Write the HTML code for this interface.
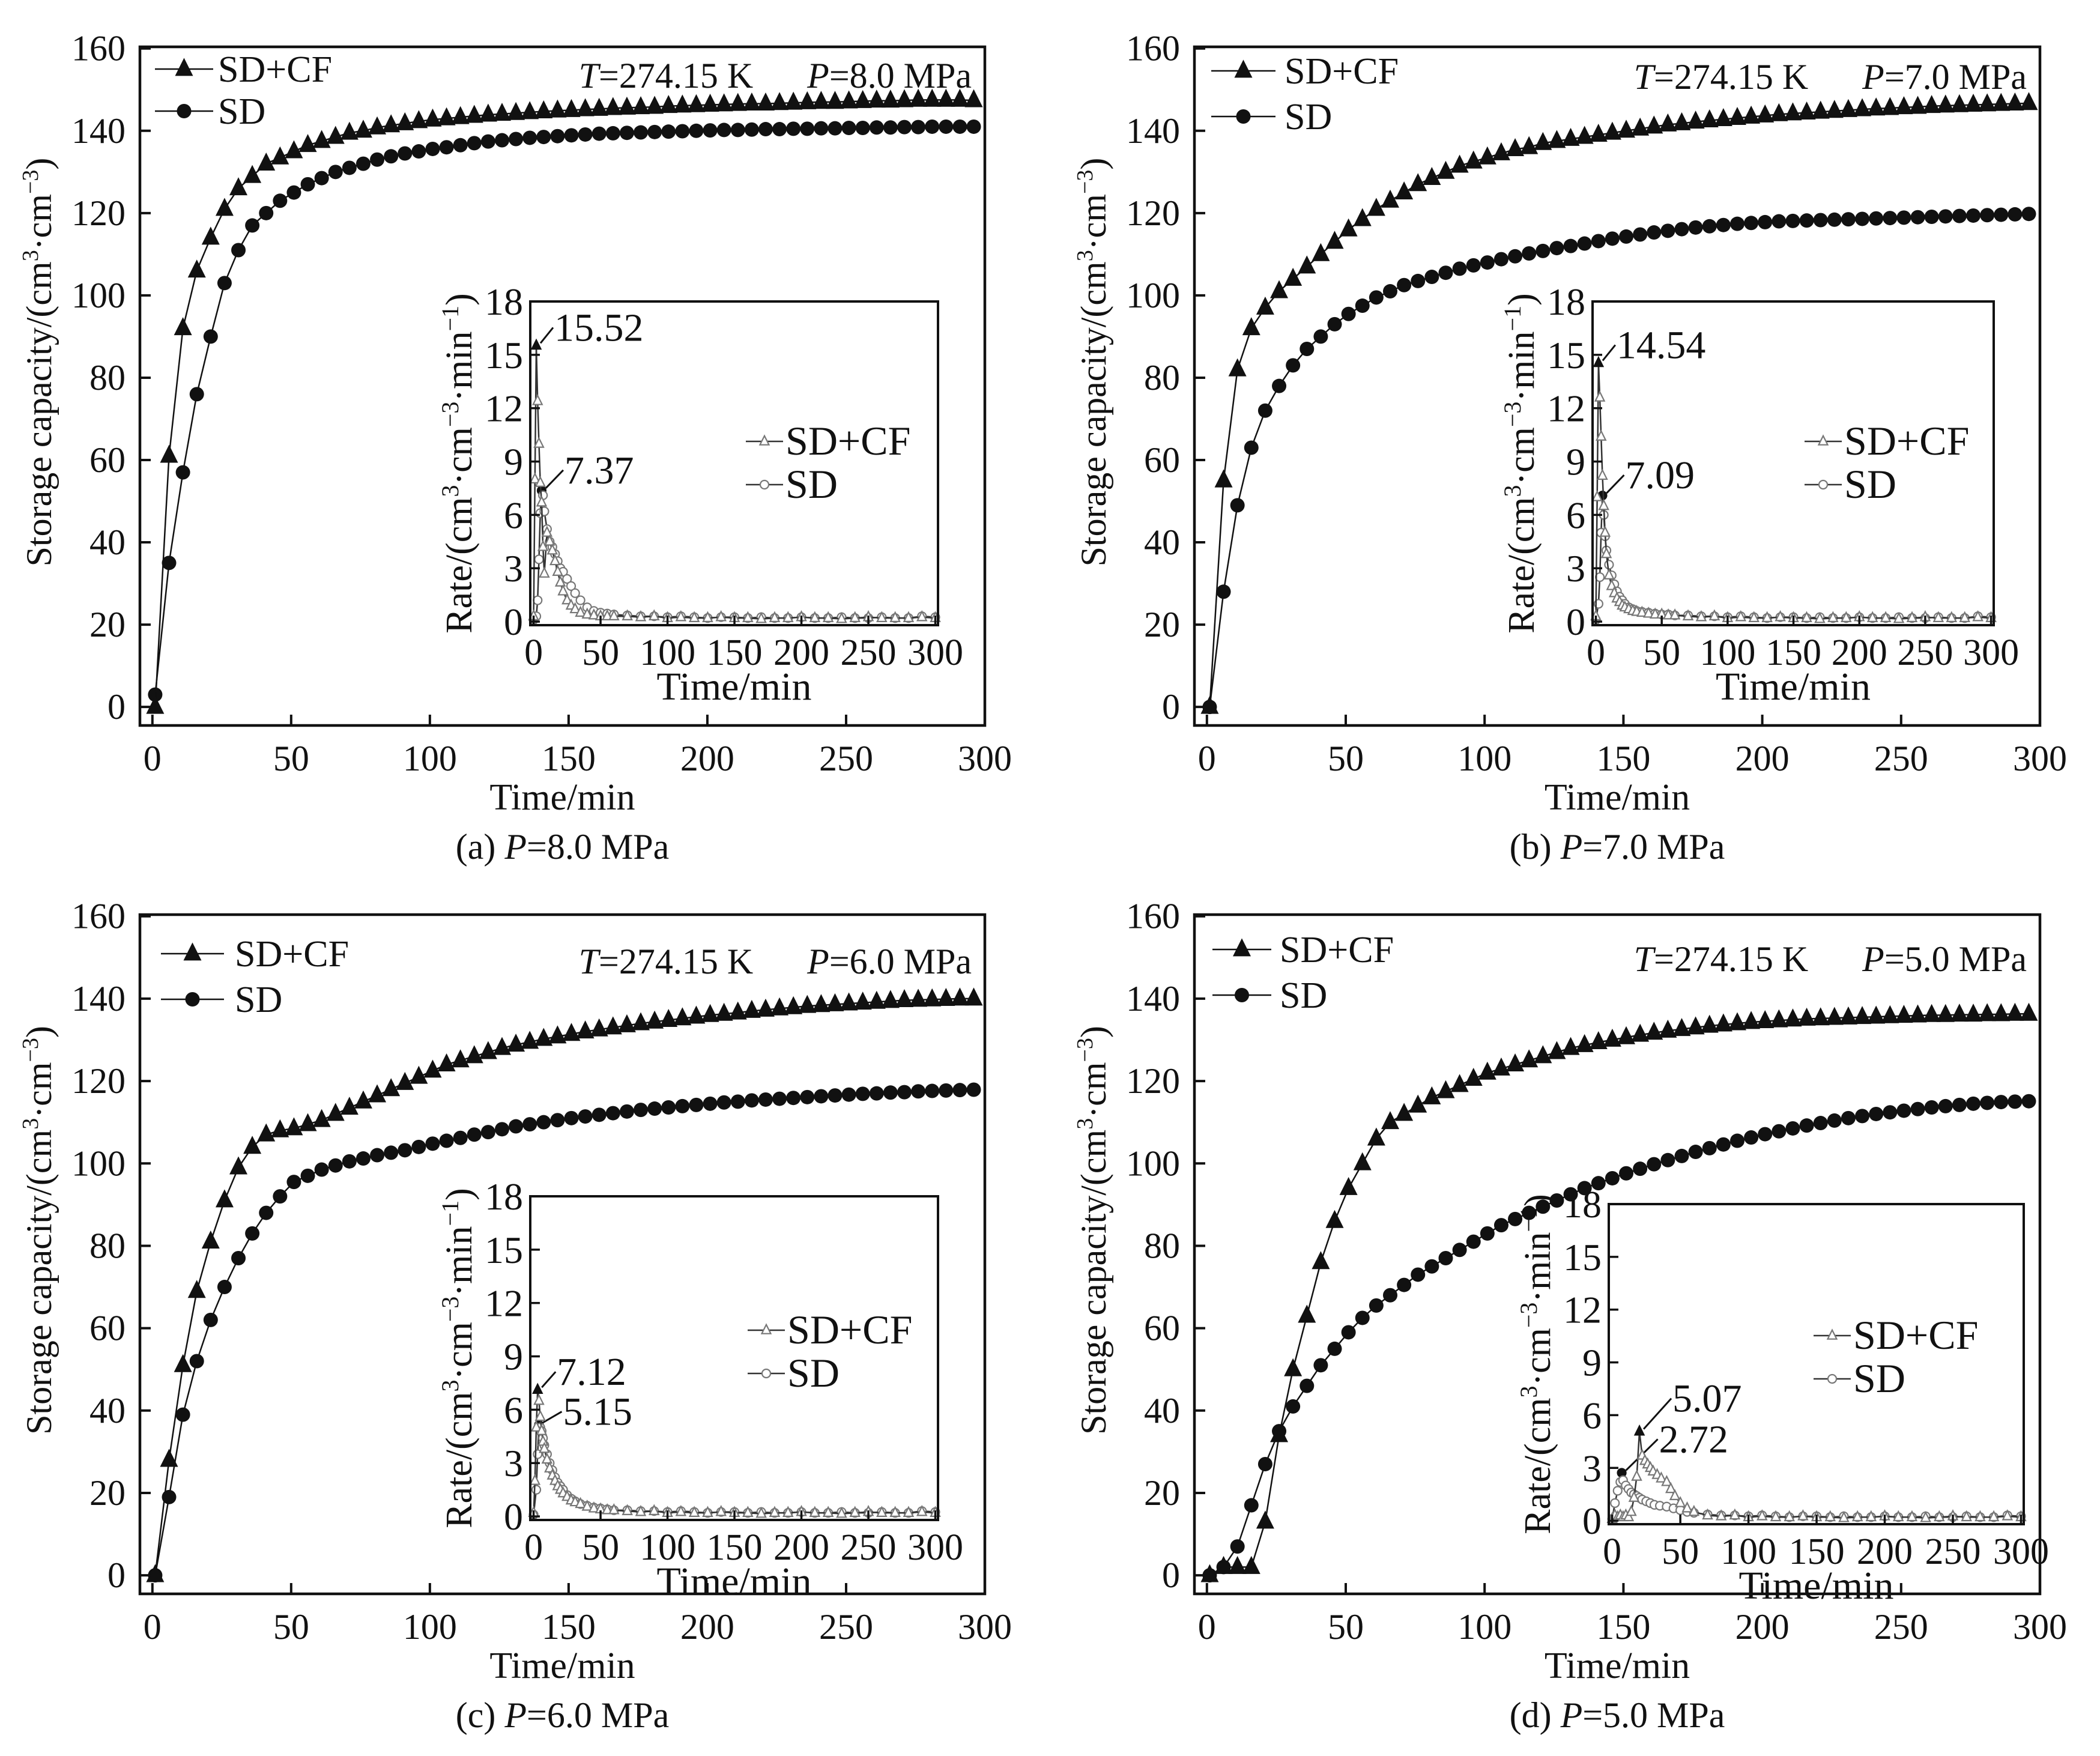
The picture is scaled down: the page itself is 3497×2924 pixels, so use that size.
<!DOCTYPE html>
<html><head><meta charset="utf-8">
<style>
html,body{margin:0;padding:0;background:#fff;}
svg{display:block;font-family:"Liberation Serif","Times New Roman",serif;}
</style></head>
<body>
<svg id="fig" xmlns="http://www.w3.org/2000/svg" width="3497" height="2924" viewBox="0 0 3497 2924"></svg>
<script>
// ---------- main chart data (storage capacity) ----------
const mainTimes = [1,6,11,16,21,26,31,36,41,46,51,56,61,66,71,76,81,86,91,96,101,106,111,116,121,126,131,136,141,146,151,156,161,166,171,176,181,186,191,196,201,206,211,216,221,226,231,236,241,246,251,256,261,266,271,276,281,286,291,296];
const mainTicksX = [0,50,100,150,200,250,300];
const mainTicksY = [0,20,40,60,80,100,120,140,160];
const aCF = [0,61,92,106,114,121,126,129,132,133.5,135,136.5,137.5,138.5,139.5,140,140.8,141.3,141.8,142.3,142.7,143,143.3,143.6,143.9,144.1,144.3,144.5,144.7,144.9,145,145.2,145.3,145.5,145.6,145.7,145.8,146,146.1,146.2,146.3,146.4,146.5,146.6,146.6,146.7,146.8,146.9,147,147,147.1,147.2,147.3,147.3,147.4,147.5,147.5,147.5,147.5,147.4];
const aSD = [3,35,57,76,90,103,111,117,120,123,125,127,128.5,130,131,132,133,133.8,134.5,135,135.6,136,136.5,137,137.4,137.7,138,138.3,138.5,138.7,138.9,139.1,139.3,139.4,139.5,139.6,139.7,139.8,139.9,140,140.1,140.2,140.2,140.3,140.4,140.4,140.5,140.5,140.6,140.6,140.7,140.7,140.8,140.8,140.9,140.9,141,141,141,141];
const bCF = [0,55,82,92,97,101,104,107,110,113,116,118.5,121,123,125,127,128.5,130,131.5,132.5,133.5,134.5,135.5,136,137,137.5,138,138.5,139,139.5,140,140.5,141,141.5,141.8,142.2,142.5,142.8,143.1,143.4,143.7,144,144.2,144.4,144.6,144.8,145,145.2,145.4,145.5,145.7,145.8,146,146.1,146.2,146.3,146.4,146.5,146.6,146.7];
const bSD = [0,28,49,63,72,78,83,87,90,93,95.5,97.5,99.5,101,102.5,103.5,104.5,105.5,106.5,107.3,108,108.8,109.5,110.2,110.8,111.5,112,112.6,113.2,113.8,114.3,114.8,115.3,115.7,116.1,116.5,116.8,117.1,117.4,117.6,117.8,118,118.1,118.2,118.3,118.4,118.5,118.6,118.7,118.8,118.9,119,119.1,119.2,119.3,119.4,119.5,119.6,119.7,119.8];
const cCF = [0,28,51,69,81,91,99,104,107,108,108.5,109.5,110.5,112,113.5,115,116.5,118,119.5,121,122.5,124,125,126,127,128,128.8,129.5,130.2,130.8,131.4,132,132.5,133,133.5,134,134.4,134.8,135.2,135.6,136,136.3,136.6,137,137.3,137.6,137.9,138.2,138.4,138.6,138.8,139,139.2,139.4,139.6,139.7,139.8,139.9,140,140];
const cSD = [0,19,39,52,62,70,77,83,88,92,95.5,97,98.5,99.5,100.5,101.2,102,102.6,103.2,104,104.8,105.5,106.2,107,107.6,108.3,109,109.5,110,110.5,111,111.4,111.8,112.2,112.6,113,113.3,113.6,113.9,114.2,114.5,114.8,115,115.3,115.5,115.7,115.9,116.1,116.3,116.5,116.7,116.9,117,117.2,117.3,117.5,117.6,117.7,117.8,117.9];
const dCF = [0,2,2,2,13,34,50,63,76,86,94,100,106,110,112,114,116,117.5,119,120.5,122,123,124,125,126,127,128,128.7,129.4,130,130.6,131.2,131.7,132.2,132.6,133,133.4,133.7,134,134.3,134.5,134.7,134.9,135.1,135.2,135.3,135.4,135.5,135.6,135.7,135.8,135.9,136,136,136.1,136.1,136.2,136.2,136.3,136.3];
const dSD = [0,2,7,17,27,35,41,46,51,55,59,62.5,65.5,68,70.5,73,75,77,79,81,83,85,86.5,88,89.5,91,92.5,94,95.2,96.4,97.6,98.7,99.8,100.8,101.8,102.8,103.7,104.6,105.5,106.3,107.1,107.8,108.5,109.2,109.8,110.4,111,111.5,112,112.4,112.8,113.2,113.6,113.9,114.2,114.5,114.7,114.9,115,115.1];

// ---------- inset data (rate) ----------
const insetTicksX = [0,50,100,150,200,250,300];
const insetTicksY = [0,3,6,9,12,15,18];
const tailTimes = [70,80,90,100,110,120,130,140,150,160,170,180,190,200,210,220,230,240,250,260,270,280,290,300];
const tailCF = [0.3,0.25,0.3,0.2,0.25,0.2,0.2,0.25,0.2,0.2,0.15,0.2,0.2,0.25,0.2,0.2,0.15,0.2,0.25,0.2,0.2,0.2,0.25,0.2];
const tailSD = [0.35,0.3,0.3,0.25,0.3,0.25,0.2,0.25,0.25,0.2,0.25,0.2,0.2,0.25,0.2,0.2,0.25,0.2,0.2,0.25,0.2,0.2,0.3,0.25];
const rateTimesCF = [0,1,2,3,4,5,6,7,8,10,12,14,16,18,20,22,25,28,31,35,40,45,50,55,60];
const rateTimesSD = [0,2,3,4,5,6,7,8,10,12,14,16,18,20,22,25,28,31,35,40,45,50,55,60];
const aRateCF = [0.3,8,15.52,12.4,10,7.8,6.7,4.2,2.7,5.0,4.5,4.0,3.4,2.8,2.2,1.7,1.2,0.9,0.7,0.5,0.4,0.35,0.3,0.3,0.3];
const aRateSD = [0.1,0.3,1.2,3.5,6.1,7.37,7.1,6.2,5.2,4.5,4.2,3.8,3.4,3.0,2.8,2.4,2.0,1.6,1.2,0.8,0.6,0.5,0.45,0.4];
const bRateCF = [0.3,7,14.54,12.6,10.4,8.2,6.5,5.0,3.8,2.6,2.0,1.6,1.3,1.1,0.9,0.8,0.7,0.6,0.55,0.5,0.45,0.4,0.4,0.35,0.35];
const bRateSD = [0.1,1,2.5,5,7.09,6,4.8,4.0,3.2,2.6,2.1,1.7,1.4,1.2,1.0,0.8,0.7,0.6,0.55,0.5,0.45,0.4,0.4,0.35];
const cRateCF = [0.2,2,5,7.12,6.5,5.6,4.8,4.2,3.8,3.2,2.7,2.3,2.0,1.7,1.5,1.3,1.1,0.9,0.8,0.7,0.55,0.45,0.4,0.35,0.35];
const cRateSD = [0.1,1.5,3.5,5.15,5.0,4.8,4.4,4.0,3.5,3.0,2.6,2.2,1.9,1.7,1.5,1.2,1.0,0.85,0.7,0.6,0.5,0.45,0.4,0.35];
const dRateTimesCF = [0,2,4,6,8,10,12,14,16,18,20,22,24,26,28,30,33,36,40,43,46,50,55,60];
const dRateCF = [0.1,0.3,0.2,0.3,0.2,0.3,0.2,0.5,1.3,2.5,5.07,3.7,3.4,3.2,3.0,2.8,2.6,2.4,2.2,1.8,1.4,1.0,0.7,0.5];
const dRateTimesSD = [0,2,4,6,7,8,10,12,14,16,18,20,22,25,28,31,35,40,45,50,55,60];
const dRateSD = [0.1,1,1.7,2.2,2.72,2.3,2.0,1.8,1.6,1.5,1.4,1.3,1.2,1.1,1.0,0.9,0.85,0.8,0.7,0.6,0.5,0.45];
const peakLabels = {a:["15.52","7.37"],b:["14.54","7.09"],c:["7.12","5.15"],d:["5.07","2.72"]};

const NS = "http://www.w3.org/2000/svg";
const svg = document.getElementById('fig');
function mk(tag, attrs, parent){
  const e = document.createElementNS(NS, tag);
  for (const k in attrs) e.setAttribute(k, attrs[k]);
  (parent||svg).appendChild(e);
  return e;
}
function txt(parent, x, y, str, size, anchor, name){
  const t = mk('text', {x:x, y:y, 'font-size':size, 'text-anchor':anchor||'start', fill:'#111'}, parent);
  
  
  t.textContent = str;
  return t;
}
function tri(parent, x, y, s, fill, stroke, sw){
  return mk('polygon', {points:`${x},${y-s*0.62} ${x-s/2},${y+s*0.38} ${x+s/2},${y+s*0.38}`, fill:fill, stroke:stroke, 'stroke-width':sw}, parent);
}

const panels = [
 {id:'a', L:233, T:78, R:1640, B:1208, cf:aCF, sd:aSD, P:'8.0', titleDy:68, legY:[37,107], legX:[25,122,130],
  ins:{L:883,T:502,R:1562,B:1041, cfT:rateTimesCF, cf:aRateCF, sdT:rateTimesSD, sd:aRateSD, leg:[1242,735], ann:[[30,-8],[38,-12]]}},
 {id:'b', L:1989, T:78, R:3397, B:1208, cf:bCF, sd:bSD, P:'7.0', titleDy:70, legY:[40,116], legX:[28,135,150],
  ins:{L:2652,T:502,R:3320,B:1041, cfT:rateTimesCF, cf:bRateCF, sdT:rateTimesSD, sd:bRateSD, leg:[3005,735], ann:[[30,-8],[38,-12]]}},
 {id:'c', L:233, T:1523, R:1640, B:2654, cf:cCF, sd:cSD, P:'6.0', titleDy:98, legY:[65,141], legX:[35,140,158],
  ins:{L:883,T:1992,R:1562,B:2531, cfT:rateTimesCF, cf:cRateCF, sdT:rateTimesSD, sd:cRateSD, leg:[1245,2215], ann:[[32,-8],[40,0]]}},
 {id:'d', L:1989, T:1523, R:3397, B:2654, cf:dCF, sd:dSD, P:'5.0', titleDy:94, legY:[58,134], legX:[30,128,142],
  ins:{L:2679,T:2005,R:3370,B:2538, cfT:dRateTimesCF, cf:dRateCF, sdT:dRateTimesSD, sd:dRateSD, leg:[3020,2224], ann:[[55,-33],[62,-34]]}}
];

panels.forEach(p => {
  const g = mk('g', {});
  
  
  const xmin=-4.5, xmax=300, ymin=-4.5, ymax=160.4;
  const sx = v => p.L + (v - xmin) / (xmax - xmin) * (p.R - p.L);
  const sy = v => p.B - (v - ymin) / (ymax - ymin) * (p.B - p.T);

  const drawSeries = (vals, kind) => {
    const sg = mk('g', {}, g);
    
    
    mk('polyline', {points: vals.map((v,i)=>sx(mainTimes[i])+','+sy(v)).join(' '), fill:'none', stroke:'#111', 'stroke-width':2.5}, sg);
    vals.forEach((v,i) => {
      let m;
      if (kind === 'tri') m = tri(sg, sx(mainTimes[i]), sy(v), 30, '#111', 'none', 0);
      else m = mk('circle', {cx:sx(mainTimes[i]), cy:sy(v), r:12, fill:'#111'}, sg);
      
      
    });
  };
  drawSeries(p.sd, 'circ');
  drawSeries(p.cf, 'tri');

  const fr = mk('rect', {x:p.L, y:p.T, width:p.R-p.L, height:p.B-p.T, fill:'none', stroke:'#111', 'stroke-width':4.5}, g);
  
  

  mainTicksX.forEach(v => {
    mk('line', {x1:sx(v), x2:sx(v), y1:p.B, y2:p.B-18, stroke:'#111', 'stroke-width':4}, g);
    txt(g, sx(v), p.B+75, String(v), 60, 'middle', 'x-tick-label');
  });
  mainTicksY.forEach(v => {
    mk('line', {x1:p.L, x2:p.L+18, y1:sy(v), y2:sy(v), stroke:'#111', 'stroke-width':4}, g);
    txt(g, p.L-24, sy(v)+20, String(v), 60, 'end', 'y-tick-label');
  });
  txt(g, (p.L+p.R)/2, p.B+140, 'Time/min', 62, 'middle', 'x-axis-title');
  const cap = txt(g, (p.L+p.R)/2, p.B+222, '', 60, 'middle', 'caption');
  cap.innerHTML = `(${p.id}) <tspan font-style="italic">P</tspan>=${p.P} MPa`;
  const yl = mk('text', {x:0, y:0, 'font-size':60, 'text-anchor':'middle', fill:'#111', transform:`translate(${p.L-148},${(p.T+p.B)/2-40}) rotate(-90)`}, g);
  
  
  yl.innerHTML = 'Storage capacity/(cm<tspan dy="-22" font-size="38">3</tspan><tspan dy="22">·cm</tspan><tspan dy="-22" font-size="38">−3</tspan><tspan dy="22">)</tspan>';

  const tt = txt(g, p.R-22, p.T+p.titleDy, '', 60, 'end', 'condition-label');
  tt.innerHTML = `<tspan font-style="italic">T</tspan>=274.15 K      <tspan font-style="italic">P</tspan>=${p.P} MPa`;
  tt.style.whiteSpace = 'pre';

  const lg = mk('g', {}, g);
  
  
  [['SD+CF','tri'],['SD','circ']].forEach((e,i) => {
    const y = p.T + p.legY[i];
    mk('line', {x1:p.L+p.legX[0], x2:p.L+p.legX[1], y1:y, y2:y, stroke:'#111', 'stroke-width':2.5}, lg);
    const cx = (2*p.L+p.legX[0]+p.legX[1])/2;
    if (e[1]==='tri') tri(lg, cx, y, 30, '#111', 'none', 0); else mk('circle', {cx:cx, cy:y, r:12, fill:'#111'}, lg);
    txt(lg, p.L+p.legX[2], y+21, e[0], 62, 'start', 'legend-entry');
  });

  // inset
  const I = p.ins;
  const ig = mk('g', {}, g);
  
  
  const ixmin=-2.5, ixmax=302, iymin=-0.2, iymax=18;
  const ix = v => I.L + (v - ixmin)/(ixmax-ixmin)*(I.R-I.L);
  const iy = v => I.B - (v - iymin)/(iymax-iymin)*(I.B-I.T);
  mk('rect', {x:I.L, y:I.T, width:I.R-I.L, height:I.B-I.T, fill:'#fff', stroke:'none'}, ig);
  const drawRate = (times, vals, kind, lbl, off) => {
    const sg = mk('g', {}, ig);
    
    
    const T = times.concat(tailTimes);
    const V = vals.concat(kind==='tri' ? tailCF : tailSD);
    mk('polyline', {points: V.map((v,i)=>ix(T[i])+','+iy(v)).join(' '), fill:'none', stroke:'#333', 'stroke-width':2.5}, sg);
    let pk = 0; V.forEach((v,i)=>{ if (v > V[pk]) pk = i; });
    V.forEach((v,i) => {
      const filled = i === pk;
      let m;
      if (kind==='tri') m = tri(sg, ix(T[i]), iy(v), 15, filled?'#111':'#fff', filled?'#111':'#777', 2.2);
      else m = mk('circle', {cx:ix(T[i]), cy:iy(v), r:7, fill:filled?'#111':'#fff', stroke:filled?'#111':'#777', 'stroke-width':2.2}, sg);
      
      
    });
    const px = ix(T[pk]), py = iy(V[pk]);
    mk('line', {x1:px+7, y1:py-4, x2:px+off[0]-2, y2:py+off[1]-22, stroke:'#111', 'stroke-width':3}, sg);
    txt(sg, px+off[0], py+off[1], lbl, 66, 'start', 'peak-label');
  };
  drawRate(I.sdT, I.sd, 'circ', peakLabels[p.id][1], I.ann[1]);
  drawRate(I.cfT, I.cf, 'tri', peakLabels[p.id][0], I.ann[0]);
  mk('rect', {x:I.L, y:I.T, width:I.R-I.L, height:I.B-I.T, fill:'none', stroke:'#111', 'stroke-width':4}, ig);
  insetTicksX.forEach(v => {
    mk('line', {x1:ix(v), x2:ix(v), y1:I.B, y2:I.B-16, stroke:'#111', 'stroke-width':3.5}, ig);
    txt(ig, ix(v), I.B+66, String(v), 62, 'middle', 'inset-x-tick-label');
  });
  insetTicksY.forEach(v => {
    mk('line', {x1:I.L, x2:I.L+16, y1:iy(v), y2:iy(v), stroke:'#111', 'stroke-width':3.5}, ig);
    txt(ig, I.L-12, iy(v)+22, String(v), 64, 'end', 'inset-y-tick-label');
  });
  txt(ig, (I.L+I.R)/2, I.B+124, 'Time/min', 66, 'middle', 'inset-x-axis-title');
  const iyl = mk('text', {x:0, y:0, 'font-size':62, 'text-anchor':'middle', fill:'#111', transform:`translate(${I.L-98},${(I.T+I.B)/2}) rotate(-90)`}, ig);
  
  
  iyl.innerHTML = 'Rate/(cm<tspan dy="-22" font-size="40">3</tspan><tspan dy="22">·cm</tspan><tspan dy="-22" font-size="40">−3</tspan><tspan dy="22">·min</tspan><tspan dy="-22" font-size="40">−1</tspan><tspan dy="22">)</tspan>';
  const il = mk('g', {}, g);
  
  
  [['SD+CF','tri'],['SD','circ']].forEach((e,i) => {
    const y = I.leg[1] + i*72;
    const x0 = I.leg[0];
    mk('line', {x1:x0, x2:x0+62, y1:y, y2:y, stroke:'#333', 'stroke-width':2.5}, il);
    if (e[1]==='tri') tri(il, x0+31, y, 15, '#fff', '#777', 2.2); else mk('circle', {cx:x0+31, cy:y, r:7, fill:'#fff', stroke:'#777', 'stroke-width':2.2}, il);
    txt(il, x0+66, y+22, e[0], 68, 'start', 'inset-legend-entry');
  });
});
</script>
</body></html>
